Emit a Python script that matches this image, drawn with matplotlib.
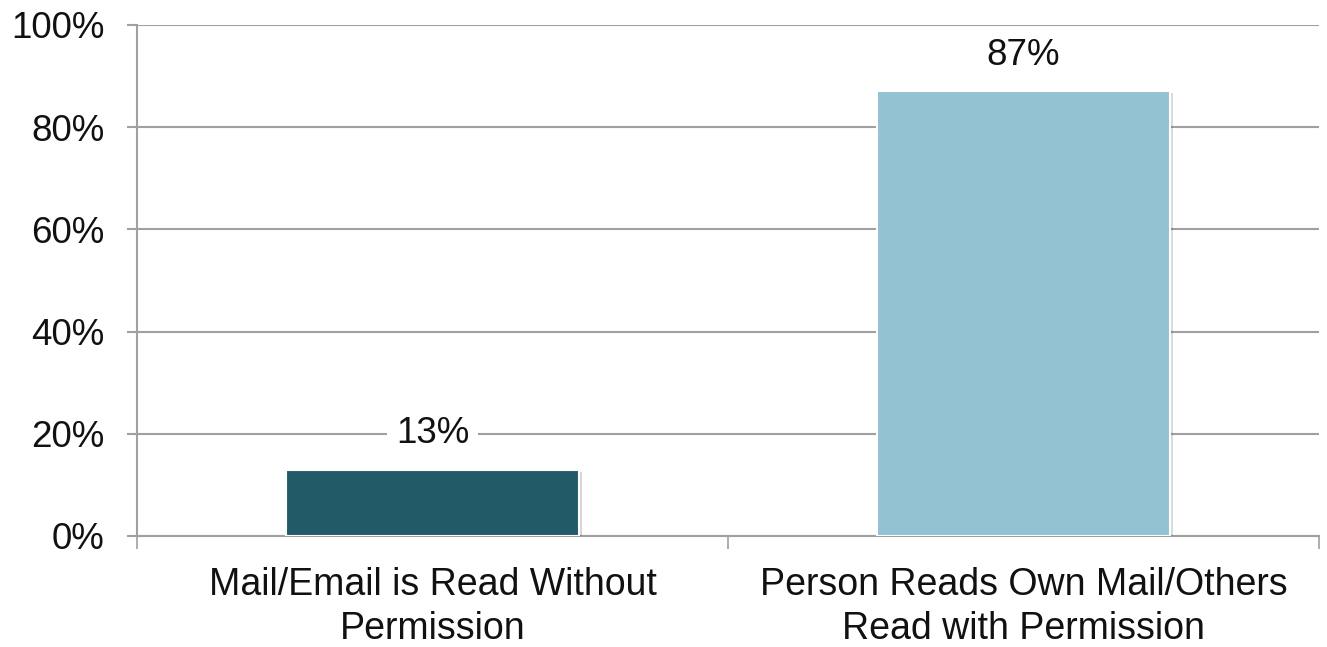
import numpy as np
import matplotlib
matplotlib.use('Agg')
import matplotlib.pyplot as plt
import matplotlib.patheffects as pe

# data
categories = ['Mail/Email is Read Without\nPermission',
              'Person Reads Own Mail/Others\nRead with Permission']
values = [13, 87]
bar_colors = ['#235a68', '#93c2d3']
yticks = [0, 20, 40, 60, 80, 100]

GRID = '#a0a0a0'
plt.rcParams['font.family'] = ['Liberation Sans', 'DejaVu Sans']

fig = plt.figure(figsize=(13.27, 6.47), dpi=100)
ax = fig.add_axes([0.1032, 0.1716, 0.8908, 0.7898])

x = np.arange(len(categories))
bars = ax.bar(x, values, width=0.496, color=bar_colors, edgecolor='white',
              linewidth=1.5, zorder=3)
for b in bars:
    b.set_path_effects([pe.SimplePatchShadow(offset=(2, -1.5), alpha=0.18),
                        pe.Normal()])

for xi, v in zip(x, values):
    ax.annotate(f'{v}%', xy=(xi, v), xytext=(0, 26), textcoords='offset points',
                ha='center', va='center', fontsize=26.5, color='#111111',
                bbox=dict(boxstyle='square,pad=0.25', fc='white', ec='none'),
                zorder=5)

ax.set_xlim(-0.5, 1.5)
ax.set_ylim(0, 100)
ax.set_yticks(yticks)
ax.set_yticklabels([f'{t}%' for t in yticks], fontsize=26.5, color='#111111')
ax.yaxis.grid(True, color=GRID, lw=1.5, zorder=0)
ax.tick_params(axis='y', length=7.5, width=1.5, color=GRID, pad=16)

# x ticks at category boundaries, labels at centres
ax.set_xticks([-0.5, 0.5, 1.5])
ax.set_xticklabels(['', '', ''])
ax.tick_params(axis='x', which='major', length=9, width=1.2, color=GRID)
ax.set_xticks(x, minor=True)
ax.set_xticklabels(categories, minor=True, fontsize=27, color='#111111',
                   linespacing=1.3)
ax.tick_params(axis='x', which='minor', length=0, pad=22)

for s in ['top', 'right']:
    ax.spines[s].set_visible(False)
for s in ['left', 'bottom']:
    ax.spines[s].set_color(GRID)
    ax.spines[s].set_linewidth(1.5)

fig.savefig('out.png', dpi=100, facecolor='white')
